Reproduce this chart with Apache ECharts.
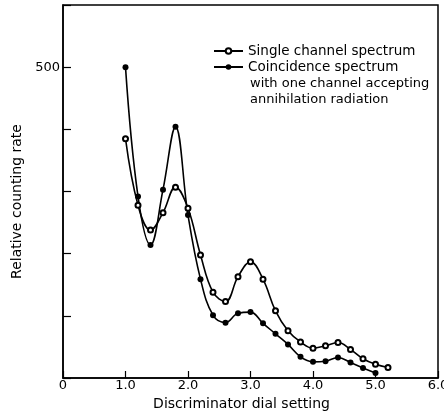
<!DOCTYPE html>
<html><head><meta charset="utf-8">
<script src="https://cdn.jsdelivr.net/npm/echarts@6/dist/echarts.min.js"></script>
<style>html,body{margin:0;padding:0;background:#fff}#c{width:444px;height:412px}</style>
</head><body><div id="c"></div>
<script>
const singleX = [1.0,1.2,1.4,1.6,1.8,2.0,2.2,2.4,2.6,2.8,3.0,3.2,3.4,3.6,3.8,4.0,4.2,4.4,4.6,4.8,5.0,5.2];
const singleY = [385,278,238,266,307,273,198,138,123,163,187,159,108,76,58,48,52,57,46,31,22,17];
const coincX = [1.0,1.2,1.4,1.6,1.8,2.0,2.2,2.4,2.6,2.8,3.0,3.2,3.4,3.6,3.8,4.0,4.2,4.4,4.6,4.8,5.0];
const coincY = [500,292,214,303,404,262,159,101,89,104,106,88,71,54,34,26,27,33,25,16,8];
const xTicks = [0,1,2,3,4,5,6];
const yLabeled = [500];
const seriesNames = ['Single channel spectrum','Coincidence spectrum'];
const extraLegendLines = ['with one channel accepting','annihilation radiation'];

const font = 'DejaVu Sans';
const chart = echarts.init(document.getElementById('c'), null, {renderer:'canvas'});
chart.setOption({
  backgroundColor:'#fff',
  animation:false,
  grid:{left:63,top:5,right:6,bottom:34,show:true,borderColor:'#000',borderWidth:1.5,backgroundColor:'transparent',
    containLabel:false,outerBoundsMode:'none'},
  xAxis:{type:'value',min:0,max:6,interval:1,
    name:'Discriminator dial setting',nameLocation:'middle',nameGap:17,
    nameTextStyle:{fontFamily:font,fontSize:14,color:'#000',padding:[0,18,0,0]},
    axisLine:{onZero:false,lineStyle:{color:'#000',width:1.5}},
    axisTick:{inside:true,length:7,lineStyle:{color:'#000',width:1.2}},
    axisLabel:{fontFamily:font,fontSize:13,color:'#000',margin:1,hideOverlap:false,showMaxLabel:true,
      formatter:v=>xTicks.indexOf(v)<0?'':(v===0?'0':v.toFixed(1))},
    splitLine:{show:false}},
  yAxis:{type:'value',min:0,max:600,interval:100,
    name:'Relative counting rate',nameLocation:'middle',nameGap:38,
    nameTextStyle:{fontFamily:font,fontSize:14,color:'#000',padding:[0,20,0,0]},
    axisLine:{lineStyle:{color:'#000',width:1.5}},
    axisTick:{inside:true,length:8,lineStyle:{color:'#000',width:1.2}},
    axisLabel:{fontFamily:font,fontSize:13,color:'#000',margin:3,
      formatter:v=>yLabeled.indexOf(v)>=0?String(v):''},
    splitLine:{show:false}},
  legend:{show:true,left:208,top:39,orient:'vertical',itemGap:2,itemWidth:29,itemHeight:7,
    textStyle:{fontFamily:font,fontSize:13.5,color:'#000',lineHeight:14},
    data:seriesNames},
  graphic:[{type:'text',left:250,top:76,style:{text:extraLegendLines.join('\n'),font:'13px "DejaVu Sans"',fill:'#000',lineHeight:16}}],
  series:[
    {name:seriesNames[0],type:'line',smooth:0.4,symbol:'emptyCircle',symbolSize:5,
     lineStyle:{color:'#000',width:1.6},itemStyle:{color:'#000',borderColor:'#000',borderWidth:1.2},
     data:singleX.map((x,i)=>[x,singleY[i]])},
    {name:seriesNames[1],type:'line',smooth:0.4,symbol:'circle',symbolSize:6,
     lineStyle:{color:'#000',width:1.6},itemStyle:{color:'#000'},
     data:coincX.map((x,i)=>[x,coincY[i]])}
  ]
});
</script></body></html>
